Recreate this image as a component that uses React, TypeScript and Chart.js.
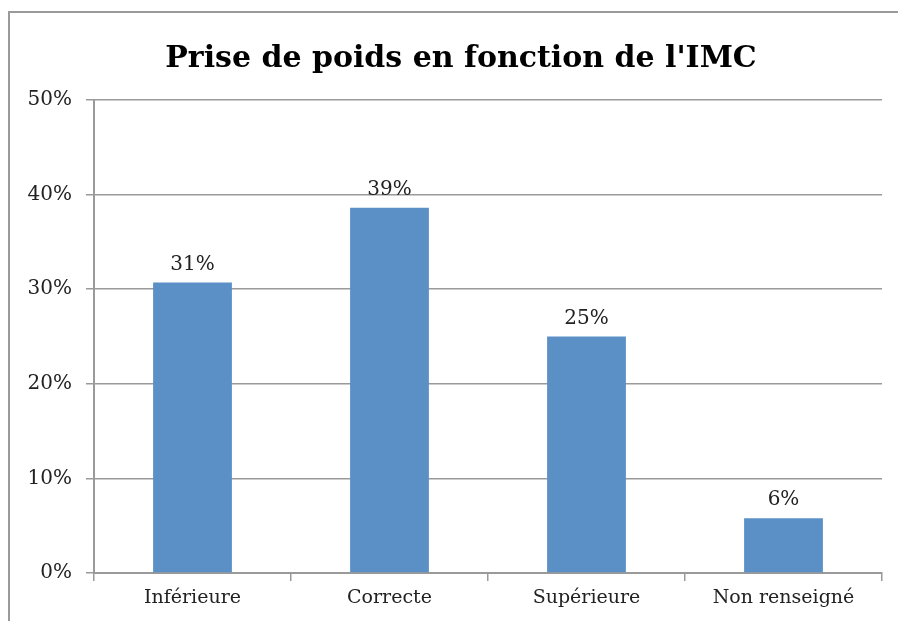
import React, { useEffect, useRef } from "react";
import { Chart, registerables } from "chart.js";

Chart.register(...registerables);

const TITLE = "Prise de poids en fonction de l'IMC";
const categories = ["Inférieure", "Correcte", "Supérieure", "Non renseigné"];
const values = [30.7, 38.6, 25.0, 5.8];
const valueLabels = ["31%", "39%", "25%", "6%"];
const yTicks = [0, 10, 20, 30, 40, 50];

const FONT = "'DejaVu Serif', serif";
const GRID = "#9a9a9a";

const overlayPlugin = {
  id: "overlay",
  afterDatasetsDraw(chart: any) {
    const ctx = chart.ctx;
    const meta = chart.getDatasetMeta(0);
    ctx.save();
    ctx.fillStyle = "#222";
    ctx.font = `20px ${FONT}`;
    ctx.textAlign = "center";
    ctx.textBaseline = "alphabetic";
    meta.data.forEach((bar: any, i: number) => {
      ctx.fillText(valueLabels[i], bar.x, bar.y - 13);
    });
    ctx.fillStyle = "#000";
    ctx.font = `bold 30px ${FONT}`;
    ctx.fillText(TITLE, 461, 67);
    ctx.restore();
  },
};

export default function App() {
  const ref = useRef<HTMLCanvasElement | null>(null);
  useEffect(() => {
    if (!ref.current) return;
    const chart = new Chart(ref.current, {
      type: "bar",
      data: {
        labels: categories,
        datasets: [
          {
            data: values,
            backgroundColor: "#5b90c6",
            borderWidth: 0,
            barPercentage: 0.4,
            categoryPercentage: 1,
          },
        ],
      },
      options: {
        animation: false,
        responsive: false,
        maintainAspectRatio: false,
        layout: { padding: { top: 100, right: 16, bottom: 0, left: 0 } },
        plugins: {
          legend: { display: false },
          title: { display: false },
          tooltip: { enabled: false },
        },
        scales: {
          x: {
            afterFit: (s: any) => {
              s.height = 48;
            },
            grid: {
              offset: true,
              drawOnChartArea: false,
              drawTicks: true,
              tickLength: 8,
              color: GRID,
              lineWidth: 1.5,
            },
            border: { color: GRID, width: 2 },
            ticks: {
              color: "#222",
              font: { family: FONT, size: 19 },
              padding: 6,
            },
          },
          y: {
            min: 0,
            max: 50,
            afterFit: (s: any) => {
              s.width = 94;
            },
            afterBuildTicks: (s: any) => {
              s.ticks = yTicks.map((v) => ({ value: v }));
            },
            grid: {
              color: GRID,
              lineWidth: 1.5,
              tickLength: 8,
            },
            border: { color: GRID, width: 2 },
            ticks: {
              color: "#222",
              font: { family: FONT, size: 20 },
              padding: 14,
              callback: (v: any) => `${v}%`,
            },
          },
        },
      },
      plugins: [overlayPlugin],
    });
    return () => chart.destroy();
  }, []);

  return (
    <div style={{ position: "fixed", left: 0, top: 0, width: 898, height: 621, background: "#fff", overflow: "hidden" }}>
      <div
        style={{
          position: "absolute",
          left: 8,
          top: 11,
          width: 890,
          height: 610,
          borderLeft: "2px solid #9a9a9a",
          borderTop: "2px solid #9a9a9a",
        }}
      />
      <canvas ref={ref} width={898} height={621} style={{ position: "absolute", left: 0, top: 0 }} />
    </div>
  );
}
